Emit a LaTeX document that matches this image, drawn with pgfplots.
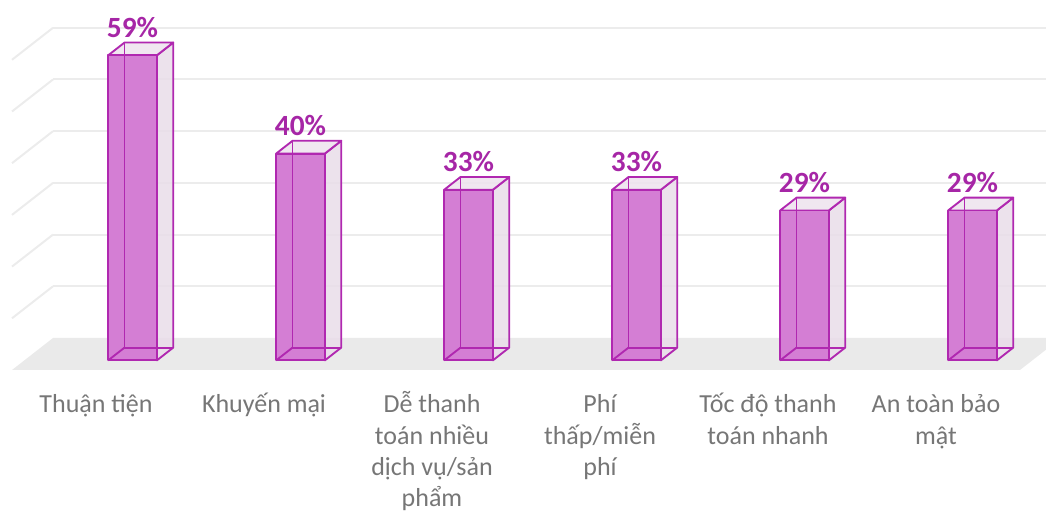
\documentclass[border=0pt]{standalone}
\usepackage{pgfplots}
\pgfplotsset{compat=1.18}
\usepackage{fontspec}
\setmainfont{Carlito}

\definecolor{frontc}{RGB}{212,126,212}
\definecolor{edgec}{RGB}{176,40,176}
\definecolor{sidec}{RGB}{233,221,233}
\definecolor{topc}{RGB}{238,228,238}
\definecolor{pctc}{RGB}{166,38,166}
\definecolor{gridc}{RGB}{236,236,236}
\definecolor{floorc}{RGB}{234,234,234}
\definecolor{textc}{RGB}{118,118,118}

\tikzset{
  sideface/.style={fill=sidec, fill opacity=0.85, draw=edgec, line width=1.4pt, line join=round},
  topface/.style={fill=topc, fill opacity=0.9, draw=edgec, line width=1.4pt, line join=round},
  frontface/.style={fill=frontc, draw=edgec, line width=1.4pt, line join=round},
  edgeline/.style={draw=edgec, line width=1.4pt, line join=round},
  pctlabel/.style={font=\bfseries\fontsize{22}{26}\selectfont, text=pctc, anchor=base, yshift=13.5pt, inner sep=0pt},
  catlabel/.style={font=\fontsize{19.5}{23.5}\selectfont, text=textc, anchor=base, yshift=-32.25pt, inner sep=0pt},
}

\newcommand\drawbar[2]{%
  \pgfmathsetmacro\xa{#1+0.499}%
  \pgfmathsetmacro\xb{#1+0.789}%
  \pgfmathsetmacro\xc{#1+0.644}%
  \edef\tmp{%
    \noexpand\addplot3[sideface] coordinates {(\xb,0.3,0) (\xb,0.7,0) (\xb,0.7,#2) (\xb,0.3,#2)} -- cycle;
    \noexpand\addplot3[topface] coordinates {(\xa,0.3,#2) (\xb,0.3,#2) (\xb,0.7,#2) (\xa,0.7,#2)} -- cycle;
    \noexpand\addplot3[frontface] coordinates {(\xa,0.3,0) (\xb,0.3,0) (\xb,0.3,#2) (\xa,0.3,#2)} -- cycle;
    \noexpand\addplot3[edgeline] coordinates {(\xa,0.7,#2) (\xa,0.7,0) (\xb,0.7,0)};
    \noexpand\addplot3[edgeline] coordinates {(\xa,0.3,0) (\xa,0.7,0)};
    \noexpand\node[pctlabel] at (axis cs:\xc,0.3,#2) {#2\noexpand\%};
  }\tmp}

\begin{document}
\begin{tikzpicture}
\begin{axis}[
  x={(126pt,0pt)}, y={(30.75pt,24pt)}, z={(0pt,3.8775pt)},
  xmin=0, xmax=6, ymin=0, ymax=1, zmin=0, zmax=66,
  axis line style={draw=none},
  tick style={draw=none},
  xtick=\empty, ytick=\empty,
  ztick={10,20,30,40,50,60}, zticklabels={},
  zmajorgrids,
  major grid style={draw=gridc, line width=1.5pt},
  clip=false,
]
% floor
\addplot3[fill=floorc, draw=none] coordinates {(0,0,0) (6,0,0) (6,1,0) (0,1,0)} -- cycle;
\coordinate (O) at (axis cs:0,0,0);

\drawbar{0}{59}
\drawbar{1}{40}
\drawbar{2}{33}
\drawbar{3}{33}
\drawbar{4}{29}
\drawbar{5}{29}

\node[catlabel] at (axis cs:0.5,0,0) {\begin{tabular}[t]{@{}c@{}}Thuận tiện\end{tabular}};
\node[catlabel] at (axis cs:1.5,0,0) {\begin{tabular}[t]{@{}c@{}}Khuyến mại\end{tabular}};
\node[catlabel] at (axis cs:2.5,0,0) {\begin{tabular}[t]{@{}c@{}}Dễ thanh\\toán nhiều\\dịch vụ/sản\\phẩm\end{tabular}};
\node[catlabel] at (axis cs:3.5,0,0) {\begin{tabular}[t]{@{}c@{}}Phí\\thấp/miễn\\phí\end{tabular}};
\node[catlabel] at (axis cs:4.5,0,0) {\begin{tabular}[t]{@{}c@{}}Tốc độ thanh\\toán nhanh\end{tabular}};
\node[catlabel] at (axis cs:5.5,0,0) {\begin{tabular}[t]{@{}c@{}}An toàn bảo\\mật\end{tabular}};
\end{axis}
\pgfresetboundingbox
\useasboundingbox (O) ++(-9pt,-107.25pt) rectangle ++(784.5pt,384.75pt);
\end{tikzpicture}
\end{document}
